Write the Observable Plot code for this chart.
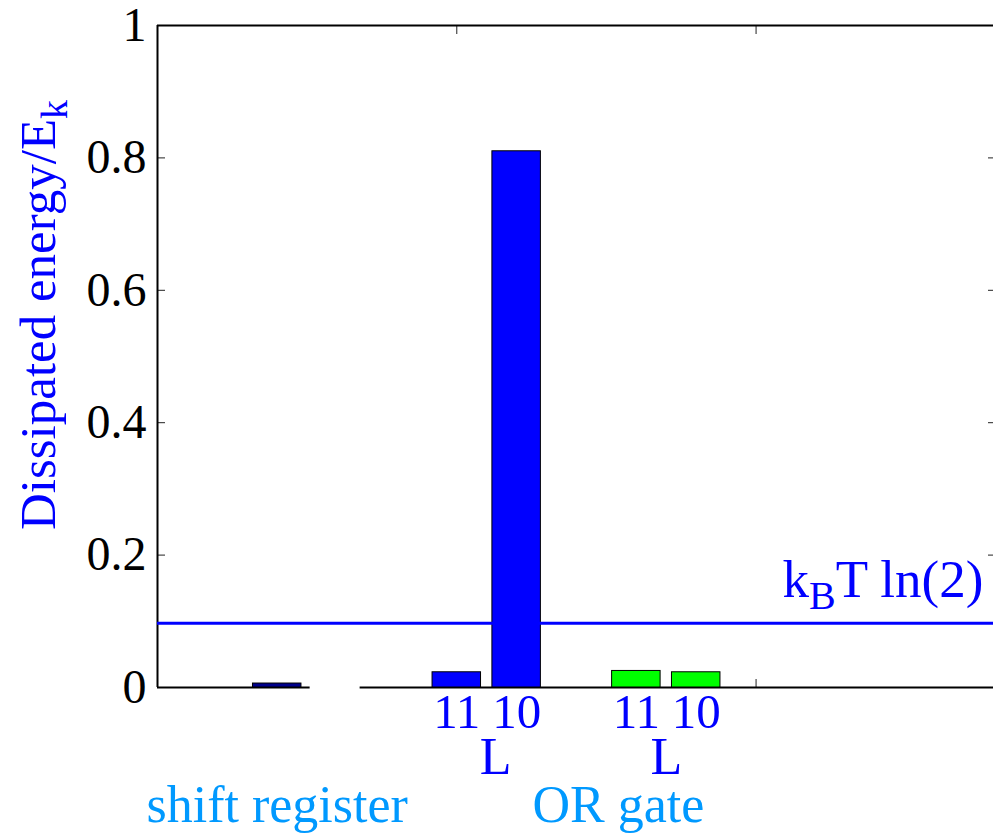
<!DOCTYPE html>
<html><head><meta charset="utf-8">
<script src="https://cdn.jsdelivr.net/npm/d3@7"></script>
<script src="https://cdn.jsdelivr.net/npm/@observablehq/plot@0.6"></script>
<style>
html,body{margin:0;padding:0;background:#fff;overflow:hidden;}
#chart svg{display:block;}
</style></head><body><div id="chart"></div>
<script>
// ---- data ----
const barX = [0.4, 1.0, 1.2, 1.6, 1.8];
const barValue = [0.006, 0.023, 0.81, 0.025, 0.023];
const barSeries = ["shift register", "OR gate L1", "OR gate L1", "OR gate L2", "OR gate L2"];
const barLabels = ["", "11", "10", "11", "10"];
const lLabelX = [1.13, 1.7];
const lLabels = ["L", "L"];
const groupX = [0.4, 1.54];
const groupNames = ["shift register", "OR gate"];
const yTicks = [0, 0.2, 0.4, 0.6, 0.8, 1];
const xTicks = [1, 2];
const thresholdValue = 0.097;
const thresholdLabelAt = [2.09, 0.136];
const baselineSegments = [[0, 0.51], [0.677, 2.8]];
const xDomain = [0, 2.8];
const yDomain = [0, 1];

const bars = barX.map((x, i) => ({x, value: barValue[i], series: barSeries[i], label: barLabels[i]}));
const lData = lLabelX.map((x, i) => ({x, text: lLabels[i]}));
const groups = groupX.map((x, i) => ({x, text: groupNames[i]}));

const FONT = "'Liberation Serif', 'Times New Roman', serif";
const FS = 50;
const FS_LABEL = 52;
const halfW = 0.081;

const chart = Plot.plot({
  width: 993,
  height: 833,
  marginLeft: 157,
  marginRight: -2,
  marginTop: 25,
  marginBottom: 146,
  style: {fontFamily: FONT, fontSize: FS + "px", background: "white", overflow: "visible"},
  x: {domain: xDomain},
  y: {domain: yDomain},
  color: {domain: ["shift register", "OR gate L1", "OR gate L2"], range: ["#00008b", "#0000ff", "#00ff00"]},
  marks: [
    // tick marks (inward)
    Plot.axisY(yTicks, {anchor: "left", tickSize: 8, dx: 8, tickFormat: () => "", label: null, stroke: "#222", strokeWidth: 1}),
    Plot.axisY(yTicks, {anchor: "right", tickSize: 8, dx: -8, tickFormat: () => "", label: null, stroke: "#222", strokeWidth: 1}),
    Plot.axisX(xTicks, {anchor: "top", tickSize: 8, dy: 8, tickFormat: () => "", label: null, stroke: "#222", strokeWidth: 1}),
    Plot.axisX(xTicks, {anchor: "bottom", tickSize: 8, dy: -8, tickFormat: () => "", label: null, stroke: "#222", strokeWidth: 1}),
    // tick labels
    Plot.axisY(yTicks, {anchor: "left", tickSize: 0, tickPadding: 11, tickFormat: d => String(d), label: null, fill: "black", fontSize: 48}),
    // frame lines
    Plot.ruleY([yDomain[1]], {stroke: "black", strokeWidth: 2}),
    Plot.ruleX([xDomain[0]], {stroke: "black", strokeWidth: 2}),
    Plot.ruleY(baselineSegments, {y: 0, x1: d => d[0], x2: d => d[1], stroke: "black", strokeWidth: 2}),
    // bars
    Plot.rectY(bars, {x1: d => d.x - halfW, x2: d => d.x + halfW, y1: 0, y2: "value", fill: "series", stroke: "black", strokeWidth: 1}),
    // threshold line
    Plot.ruleY([thresholdValue], {stroke: "#0000ff", strokeWidth: 3}),
    // labels under bars
    Plot.text(bars.filter(d => d.label), {x: "x", y: 0, text: "label", dy: 25, fill: "#0000ff", fontSize: 49, lineAnchor: "middle"}),
    Plot.text(lData, {x: "x", y: 0, text: "text", dy: 70, fill: "#0000ff", fontSize: FS_LABEL, lineAnchor: "middle"}),
    Plot.text(groups, {x: "x", y: 0, text: "text", dy: 118, fill: "#0099ff", fontSize: FS_LABEL, lineAnchor: "middle"})
  ]
});

const sx = chart.scale("x"), sy = chart.scale("y");
const svg = d3.select(chart);

// threshold label with subscript
const t = svg.append("text")
  .attr("x", sx.apply(thresholdLabelAt[0]))
  .attr("y", sy.apply(thresholdLabelAt[1]))
  .attr("fill", "#0000ff")
  .attr("font-family", FONT)
  .attr("font-size", 53)
  .attr("text-anchor", "start");
t.append("tspan").text("k");
t.append("tspan").attr("font-size", 40).attr("dy", 12).text("B");
t.append("tspan").attr("dy", -12).text("T ln(2)");

// y axis label
const yl = svg.append("text")
  .attr("transform", `translate(55, ${sy.apply(0.237)}) rotate(-90)`)
  .attr("fill", "#0000ff")
  .attr("font-family", FONT)
  .attr("font-size", 51)
  .attr("text-anchor", "start");
yl.append("tspan").text("Dissipated energy/E");
yl.append("tspan").attr("font-size", 38).attr("dy", 12).text("k");

document.getElementById("chart").appendChild(chart);
</script>
</body></html>
